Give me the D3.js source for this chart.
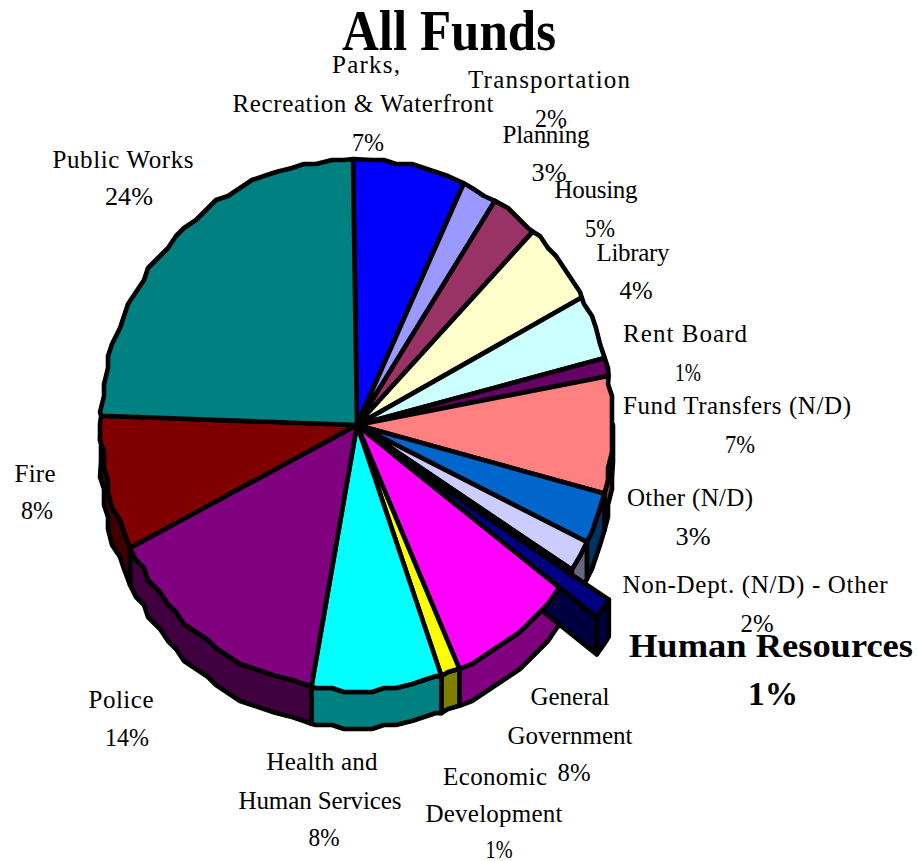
<!DOCTYPE html>
<html><head><meta charset="utf-8">
<script src="https://cdn.jsdelivr.net/npm/d3@7"></script>
<style>html,body{margin:0;padding:0;background:#fff}svg{display:block}text{font-family:"Liberation Serif",serif;fill:#000}</style>
</head><body><div id="c"></div>
<script>
const titleText = "All Funds";
const categories = ["Parks, Recreation & Waterfront","Transportation","Planning","Housing","Library","Rent Board","Fund Transfers (N/D)","Other (N/D)","Non-Dept. (N/D) - Other","Human Resources","General Government","Economic Development","Health and Human Services","Police","Fire","Public Works"];
const shares = [7.1,2.2,3.0,5.0,3.9,1.1,7.1,3.1,1.9,1.3,8.0,1.2,8.2,14.5,8.2,24.2];
const topColors = ["#0000FF","#9999FF","#993366","#FFFFCC","#CCFFFF","#660066","#FF8080","#0066CC","#CCCCFF","#000080","#FF00FF","#FFFF00","#00FFFF","#800080","#800000","#008080"];
const wallColors = ["#000080","#4D4D80","#4D1A33","#808066","#668080","#330033","#804040","#003366","#666680","#000040","#800080","#808000","#008080","#400040","#400000","#004040"];
const explodedCategory = "Human Resources";

// label text lines: [text, centre x, baseline y, drawn width]
const labelLines = [
 ["Parks,",366,73,68],["Recreation & Waterfront",363,112,261],["7%",368,151,32],
 ["Transportation",549,88,162],["2%",551,127,32],
 ["Planning",546,143,87],["3%",549,181,35],
 ["Housing",596,198,83],["5%",600,237,30],
 ["Library",633,261,73],["4%",636,299,33],
 ["Rent Board",685,342,124],["1%",688,381,26],
 ["Fund Transfers (N/D)",737,414,228],["7%",740,453,30],
 ["Other (N/D)",690,506,126],["3%",693,545,35],
 ["Non-Dept. (N/D) - Other",755,593,265],["2%",757,632,33],
 ["General",570,705,79],["Government",570,744,125],["8%",574,781,33],
 ["Economic",495,785,104],["Development",494,822,137],["1%",499,858,27],
 ["Health and",322,770,111],["Human Services",320,809,163],["8%",324,846,31],
 ["Police",121,708,65],["14%",127,746,44],
 ["Fire",35,482,41],["8%",37,519,32],
 ["Public Works",123,168,141],["24%",129,205,48]
];
const boldLines = [["Human Resources",771,657,284],["1%",773,705,50]];

const W=917,H=861,cx=357,cy=425,rx=256,ry=266,depth=37,off=[37,30],sw=4.6,grid=4,stepDeg=3;
const deg=Math.PI/180;
const svg=d3.select("#c").append("svg").attr("width",W).attr("height",H).attr("viewBox",`0 0 ${W} ${H}`);

const pie=d3.pie().sort(null).startAngle(-0.9*deg).endAngle(359.1*deg);
const arcs=pie(shares).map((d,i)=>({...d,name:categories[i],top:topColors[i],wall:wallColors[i]}));
const xS=d3.scaleLinear().domain([-1,1]).range([cx-rx,cx+rx]);
const yS=d3.scaleLinear().domain([-1,1]).range([cy-ry,cy+ry]);
const rim=(a,dx=0,dy=0)=>[xS(Math.sin(a))+dx,yS(-Math.cos(a))+dy];
// the rim is stepped: interior points snap to a coarse grid, as in the source's low-resolution outline
const snapped=(a,dx,dy)=>{const p=rim(a);return [Math.round(p[0]/grid)*grid+dx,Math.round(p[1]/grid)*grid+dy];};
function rimPath(a0,a1,dx=0,dy=0){
  const inner=d3.range(Math.ceil(a0/(stepDeg*deg)),Math.floor(a1/(stepDeg*deg))+1).map(k=>k*stepDeg*deg).filter(a=>a>a0+deg&&a<a1-deg);
  return [rim(a0,dx,dy),...inner.map(a=>snapped(a,dx,dy)),rim(a1,dx,dy)];
}
const smooth=(a0,a1,dx=0,dy=0)=>{const n=Math.max(2,Math.ceil((a1-a0)/deg));return d3.range(n+1).map(k=>rim(a0+(a1-a0)*k/n,dx,dy));};
const line=d3.line();
const face=(pts,fill)=>svg.append("path").attr("d",line(pts)+"Z").attr("fill",fill).attr("stroke","#000").attr("stroke-width",sw).attr("stroke-linejoin","round");

function wall(a0,a1,fill){
  const lo=Math.max(a0,90*deg),hi=Math.min(a1,270*deg);
  if(hi<=lo) return;
  face([...rimPath(lo,hi),...rimPath(lo,hi,0,depth).reverse()],fill);
}
const normal=arcs.filter(d=>d.name!==explodedCategory);
const hr=arcs.find(d=>d.name===explodedCategory);
normal.forEach(d=>wall(d.startAngle,d.endAngle,d.wall));
// exploded slice: side wall and outer wall
const tip=[cx+off[0],cy+off[1]];
const hrEnd=rim(hr.endAngle,off[0],off[1]);
face([tip,hrEnd,[hrEnd[0],hrEnd[1]+depth],[tip[0],tip[1]+depth]],hr.wall);
face([...smooth(hr.startAngle,hr.endAngle,off[0],off[1]),...smooth(hr.startAngle,hr.endAngle,off[0],off[1]+depth).reverse()],hr.wall);
// top faces
normal.forEach(d=>face([[cx,cy],...rimPath(d.startAngle,d.endAngle)],d.top));
face([[cx,cy],...smooth(hr.startAngle,hr.endAngle)],"#000");
face([tip,...smooth(hr.startAngle,hr.endAngle,off[0],off[1])],hr.top);

// text
svg.append("text").attr("x",449).attr("y",50).attr("text-anchor","middle").attr("font-size",56).attr("font-weight","bold").attr("textLength",214).attr("lengthAdjust","spacingAndGlyphs").text(titleText);
svg.selectAll("text.lb").data(labelLines).join("text").attr("class","lb").attr("x",d=>d[1]).attr("y",d=>d[2]).attr("text-anchor","middle").attr("font-size",25).attr("textLength",d=>d[3]).attr("lengthAdjust",d=>d[0].endsWith("%")?"spacingAndGlyphs":"spacing").text(d=>d[0]);
svg.selectAll("text.bl").data(boldLines).join("text").attr("class","bl").attr("x",d=>d[1]).attr("y",d=>d[2]).attr("text-anchor","middle").attr("font-size",33).attr("font-weight","bold").attr("textLength",d=>d[3]).attr("lengthAdjust","spacingAndGlyphs").text(d=>d[0]);
</script></body></html>
